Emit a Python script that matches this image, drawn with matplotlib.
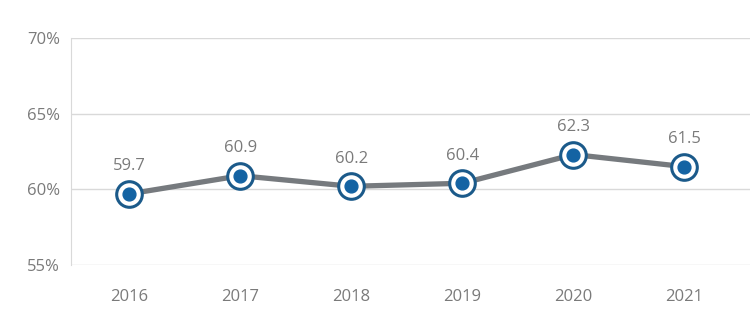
import matplotlib
matplotlib.use("Agg")
import matplotlib.pyplot as plt

years = ["2016", "2017", "2018", "2019", "2020", "2021"]
rates = [59.7, 60.9, 60.2, 60.4, 62.3, 61.5]
y_ticks = [55, 60, 65, 70]
y_tick_labels = ["55%", "60%", "65%", "70%"]

plt.rcParams["font.family"] = ["Open Sans", "DejaVu Sans"]
text_color = "#7a7a7a"
grid_color = "#d9d9d9"
line_color = "#767a7e"
ring_color = "#1b5a8a"
dot_color = "#1463a3"

fig = plt.figure(figsize=(7.5, 3.27), dpi=100)
ax = fig.add_axes([71 / 750, 1 - 265 / 327, 1 - 71 / 750, (265 - 38) / 327])

x = list(range(len(years)))
ax.plot(x, rates, color=line_color, lw=3.8, zorder=2, solid_capstyle="round")
ax.scatter(x, rates, s=340, facecolor="white", edgecolor=ring_color, linewidth=2.2, zorder=3)
ax.scatter(x, rates, s=85, color=dot_color, zorder=4)

for xi, v in zip(x, rates):
    ax.annotate(f"{v:.1f}", (xi, v), xytext=(0, 14), textcoords="offset points",
                ha="center", va="bottom", fontsize=12, color=text_color)

ax.set_xlim(-0.525, 5.59)
ax.set_ylim(55, 70)
ax.set_xticks(x)
ax.set_xticklabels(years)
ax.set_yticks(y_ticks)
ax.set_yticklabels(y_tick_labels)
ax.grid(axis="y", color=grid_color, lw=1)
ax.set_axisbelow(True)
for side in ["top", "right", "bottom"]:
    ax.spines[side].set_visible(False)
ax.spines["left"].set_color(grid_color)
ax.tick_params(length=0, labelsize=12, colors=text_color)
ax.tick_params(axis="x", pad=17)
ax.tick_params(axis="y", pad=8)

fig.savefig("out.png", dpi=100, facecolor="white")
